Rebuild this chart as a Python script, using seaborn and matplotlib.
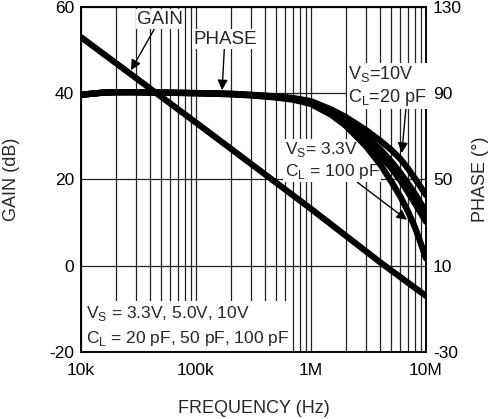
import numpy as np
import pandas as pd
import seaborn as sns
import matplotlib.pyplot as plt
from matplotlib.ticker import FixedLocator, LogLocator, NullFormatter

sns.set_style('white')
plt.rcParams['font.family'] = ['Liberation Sans', 'DejaVu Sans']
plt.rcParams['mathtext.fontset'] = 'custom'
plt.rcParams['mathtext.rm'] = 'Liberation Sans'
plt.rcParams['axes.unicode_minus'] = False

# 增益曲线
gain_freq = [1e4, 1e5, 1e6, 4e6, 1e7]
gain_db = [53.0, 33.2, 13.2, 0.8, -7.0]

# 相位曲线 (四条)
phase_freq = [1e4, 1.5e4, 2e4, 3e4, 5e4, 1e5, 2e5, 3e5, 5e5, 7e5,
              1e6, 1.5e6, 2e6, 3e6, 4e6, 5e6, 6e6, 7e6, 8e6, 9e6, 1e7]
phase_a = [89.3, 90.2, 90.5, 90.5, 90.3, 90.1, 89.8, 89.3, 88.6, 87.8,
           86.3, 82.5, 79.0, 73.0, 68.0, 63.7, 59.5, 55.0, 50.5, 46.5, 42.8]
phase_b = [89.3, 90.2, 90.5, 90.5, 90.3, 90.1, 89.7, 89.2, 88.4, 87.5,
           85.8, 81.5, 77.0, 70.0, 64.0, 58.3, 53.0, 48.0, 43.5, 39.0, 35.0]
phase_c = [89.3, 90.2, 90.5, 90.5, 90.3, 90.0, 89.6, 89.1, 88.2, 87.3,
           85.5, 80.8, 76.0, 67.5, 61.0, 55.3, 49.5, 44.0, 39.0, 34.5, 30.4]
phase_d = [89.3, 90.2, 90.5, 90.5, 90.3, 90.0, 89.5, 89.0, 88.0, 87.0,
           85.0, 80.0, 75.0, 65.5, 57.0, 49.0, 42.0, 35.0, 28.0, 20.5, 13.4]

x_ticks = [1e4, 1e5, 1e6, 1e7]
x_labels = ['10k', '100k', '1M', '10M']
gain_ticks = [-20, 0, 20, 40, 60]
phase_ticks = [-30, 10, 50, 90, 130]

fig = plt.figure(figsize=(4.89, 4.19), dpi=100)
ax = fig.add_axes([0.1656, 0.1599, 0.7055, 0.8234])
ax2 = ax.twinx()

sns.lineplot(x=gain_freq, y=gain_db, ax=ax, color='black', lw=4.5)
# 相位曲线画在文字框上面
for ph in [phase_a, phase_b, phase_c, phase_d]:
    sns.lineplot(x=phase_freq, y=ph, ax=ax2, color='black', lw=4.5, zorder=4)

ax.set_xscale('log')
ax.set_xlim(1e4, 1e7)
ax.set_ylim(-20, 60)
ax2.set_ylim(-30, 130)

ax.xaxis.set_major_locator(FixedLocator(x_ticks))
ax.set_xticklabels(x_labels)
ax.xaxis.set_minor_locator(LogLocator(base=10, subs=np.arange(2, 10)))
ax.xaxis.set_minor_formatter(NullFormatter())
ax.set_yticks(gain_ticks)
ax2.set_yticks(phase_ticks)

ax.grid(True, which='both', axis='x', color='#222222', lw=0.9)
ax.grid(True, which='major', axis='y', color='#222222', lw=0.9)
ax2.grid(False)

for a in [ax, ax2]:
    a.tick_params(which='both', length=0, labelsize=12.5, colors='black', pad=5)
    for s in a.spines.values():
        s.set_color('black')
        s.set_linewidth(1.2)
ax.tick_params(axis='x', pad=8)

ax.set_xlabel('FREQUENCY (Hz)', fontsize=13, va='center')
ax.set_ylabel('GAIN (dB)', fontsize=13, va='center')
ax2.set_ylabel('PHASE (°)', fontsize=13, rotation=90, va='center')
ax.xaxis.set_label_coords(0.5, -0.165)
ax.yaxis.set_label_coords(-0.2, 0.5)
ax2.yaxis.set_label_coords(1.157, 0.5)

box = dict(facecolor='white', edgecolor='none', pad=1)
arrow = dict(arrowstyle='-|>', color='black', lw=1, mutation_scale=15, shrinkA=0, shrinkB=0)

ax2.annotate('GAIN', xy=(0.145, 0.817), xytext=(0.229, 0.965),
             xycoords='axes fraction', textcoords='axes fraction',
             ha='center', va='center', fontsize=13.5, bbox=box,
             arrowprops=arrow)
ax2.annotate('PHASE', xy=(0.409, 0.759), xytext=(0.417, 0.907),
             xycoords='axes fraction', textcoords='axes fraction',
             ha='center', va='center', fontsize=13.5, bbox=box,
             arrowprops=arrow)

ax2.annotate('', xy=(0.930, 0.577), xytext=(0.942, 0.707),
             xycoords='axes fraction', textcoords='axes fraction', arrowprops=arrow)
ax2.text(0.774, 0.772, 'V$_{\\mathrm{S}}$=10V\nC$_{\\mathrm{L}}$=20 pF',
         transform=ax2.transAxes, ha='left', va='center', fontsize=13,
         linespacing=1.2, bbox=box)

ax2.annotate('', xy=(0.945, 0.383), xytext=(0.800, 0.493),
             xycoords='axes fraction', textcoords='axes fraction', arrowprops=arrow)
ax2.text(0.591, 0.555, 'V$_{\\mathrm{S}}$= 3.3V\nC$_{\\mathrm{L}}$ = 100 pF',
         transform=ax2.transAxes, ha='left', va='center', fontsize=12.5,
         linespacing=1.2, bbox=box)

ax2.text(0.0145, 0.075, 'V$_{\\mathrm{S}}$ = 3.3V, 5.0V, 10V\nC$_{\\mathrm{L}}$ = 20 pF, 50 pF, 100 pF',
         transform=ax2.transAxes, ha='left', va='center', fontsize=12.5,
         linespacing=1.45, bbox=dict(facecolor='white', edgecolor='none', pad=2))

fig.savefig('out.png', dpi=100)
